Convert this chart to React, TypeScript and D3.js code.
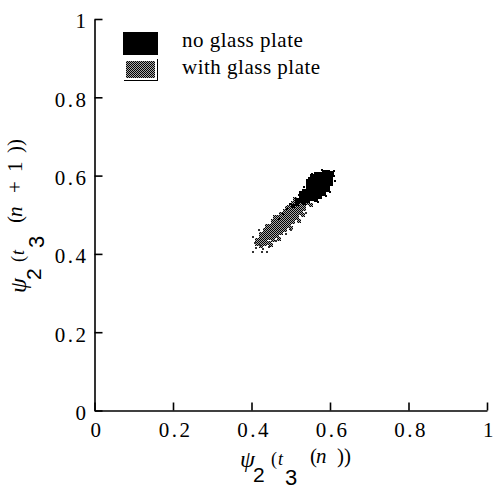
import { useEffect, useRef } from "react";
import * as d3 from "d3";

const xTicks = [0, 0.2, 0.4, 0.6, 0.8, 1];
const yTicks = [0, 0.2, 0.4, 0.6, 0.8, 1];
const xTickLabels = ["0", "0.2", "0.4", "0.6", "0.8", "1"];
const yTickLabels = ["0", "0.2", "0.4", "0.6", "0.8", "1"];
const legendLabels = ["no glass plate", "with glass plate"];

// with glass plate: [psi2(t3(n)), psi2(t3(n+1))]
const withPlate = [
  [0.415, 0.425], [0.415, 0.435],
  [0.425, 0.42], [0.425, 0.43], [0.425, 0.44], [0.425, 0.45],
  [0.435, 0.425], [0.435, 0.435], [0.435, 0.445], [0.435, 0.455], [0.435, 0.462],
  [0.445, 0.428], [0.445, 0.44], [0.445, 0.45], [0.445, 0.46], [0.445, 0.47],
  [0.455, 0.436], [0.455, 0.445], [0.455, 0.455], [0.455, 0.465], [0.455, 0.475], [0.455, 0.483],
  [0.465, 0.445], [0.465, 0.455], [0.465, 0.465], [0.465, 0.475], [0.465, 0.485], [0.465, 0.493],
  [0.475, 0.453], [0.475, 0.463], [0.475, 0.473], [0.475, 0.483], [0.475, 0.493], [0.475, 0.503],
  [0.485, 0.462], [0.485, 0.472], [0.485, 0.482], [0.485, 0.492], [0.485, 0.502], [0.485, 0.51],
  [0.495, 0.472], [0.495, 0.482], [0.495, 0.492], [0.495, 0.502], [0.495, 0.512], [0.495, 0.52],
  [0.505, 0.482], [0.505, 0.492], [0.505, 0.502], [0.505, 0.512], [0.505, 0.522], [0.505, 0.53],
  [0.515, 0.492], [0.515, 0.502], [0.515, 0.512], [0.515, 0.522], [0.515, 0.532],
  [0.525, 0.505], [0.525, 0.515], [0.525, 0.525], [0.525, 0.535], [0.525, 0.543],
  [0.535, 0.515], [0.535, 0.525], [0.535, 0.535], [0.535, 0.545],
  [0.545, 0.53], [0.545, 0.54], [0.545, 0.55],
  [0.45, 0.422], [0.44, 0.472], [0.47, 0.438], [0.49, 0.516], [0.5, 0.466],
  [0.52, 0.484], [0.53, 0.5], [0.51, 0.54], [0.552, 0.525], [0.46, 0.494],
];
const withPlateStray = [
  [0.403, 0.443], [0.408, 0.427], [0.421, 0.422], [0.403, 0.405], [0.426, 0.405],
  [0.439, 0.405], [0.411, 0.415], [0.43, 0.412], [0.445, 0.418], [0.462, 0.432],
  [0.487, 0.452], [0.42, 0.46], [0.5, 0.46], [0.54, 0.505],
];

// no glass plate
const noPlate = [
  [0.505, 0.522], [0.515, 0.527], [0.515, 0.537], [0.525, 0.535], [0.525, 0.545], [0.525, 0.555],
  [0.535, 0.53], [0.535, 0.54], [0.535, 0.55], [0.535, 0.56],
  [0.545, 0.535], [0.545, 0.545], [0.545, 0.555], [0.545, 0.565], [0.545, 0.575], [0.545, 0.585],
  [0.555, 0.54], [0.555, 0.55], [0.555, 0.56], [0.555, 0.57], [0.555, 0.58], [0.555, 0.59], [0.555, 0.598],
  [0.565, 0.537], [0.565, 0.547], [0.565, 0.557], [0.565, 0.567], [0.565, 0.577], [0.565, 0.587], [0.565, 0.597], [0.565, 0.603],
  [0.575, 0.545], [0.575, 0.555], [0.575, 0.565], [0.575, 0.575], [0.575, 0.585], [0.575, 0.595], [0.575, 0.603],
  [0.585, 0.552], [0.585, 0.562], [0.585, 0.572], [0.585, 0.582], [0.585, 0.592], [0.585, 0.602], [0.585, 0.608],
  [0.595, 0.562], [0.595, 0.572], [0.595, 0.582], [0.595, 0.592], [0.595, 0.602], [0.595, 0.608],
  [0.603, 0.578], [0.603, 0.588], [0.603, 0.598], [0.605, 0.606],
];
const noPlateStray = [
  [0.49, 0.515], [0.497, 0.527], [0.48, 0.503], [0.614, 0.585], [0.61, 0.612],
  [0.59, 0.548], [0.546, 0.594], [0.553, 0.605], [0.6, 0.558], [0.47, 0.49],
  [0.58, 0.615], [0.57, 0.532], [0.611, 0.6], [0.535, 0.57], [0.52, 0.55],
];

const SERIF = "'Liberation Serif', 'Times New Roman', serif";
const SANS = "'Liberation Sans', Arial, sans-serif";

// pieces of the axis titles: offset along the text, baseline shift
const xTitle = [
  { t: "ψ", s: 0, b: 0, f: SERIF, z: 24, i: true },
  { t: "2", s: 13, b: 15, f: SANS, z: 21, i: false },
  { t: "(", s: 31, b: -2, f: SERIF, z: 18, i: false },
  { t: "t", s: 38, b: -2, f: SERIF, z: 18, i: true },
  { t: "3", s: 45, b: 18, f: SANS, z: 22, i: false },
  { t: "(", s: 70, b: -4, f: SERIF, z: 21, i: false },
  { t: "n", s: 76, b: -4, f: SERIF, z: 21, i: true },
  { t: "))", s: 97, b: -4, f: SERIF, z: 21, i: false },
];
const yTitle = [
  ...xTitle.slice(0, 7),
  { t: "+", s: 100, b: -4, f: SERIF, z: 21, i: false },
  { t: "1", s: 121, b: -4, f: SERIF, z: 21, i: false },
  { t: "))", s: 140, b: -4, f: SERIF, z: 21, i: false },
];

export default function App() {
  const ref = useRef(null);

  useEffect(() => {
    const w = 495,
      h = 489;
    const svg = d3.select(ref.current);
    svg.selectAll("*").remove();
    svg.attr("width", w).attr("height", h);

    const x = d3.scaleLinear().domain([0, 1]).range([94.5, 487]);
    const y = d3.scaleLinear().domain([0, 1]).range([410.5, 19]);

    const pat = svg
      .append("defs")
      .append("pattern")
      .attr("id", "dither")
      .attr("width", 2)
      .attr("height", 2)
      .attr("patternUnits", "userSpaceOnUse");
    pat.append("rect").attr("width", 2).attr("height", 2).attr("fill", "#a8a8a8");
    pat.append("rect").attr("width", 1).attr("height", 1).attr("fill", "#000");
    pat.append("rect").attr("x", 1).attr("y", 1).attr("width", 1).attr("height", 1).attr("fill", "#000");

    svg.append("rect").attr("width", w).attr("height", h).attr("fill", "#fff");

    // points
    const dots = (data, size, fill) =>
      svg
        .append("g")
        .attr("shape-rendering", "crispEdges")
        .selectAll("rect")
        .data(data)
        .join("rect")
        .attr("x", (d) => Math.round(x(d[0]) - size / 2))
        .attr("y", (d) => Math.round(y(d[1]) - size / 2))
        .attr("width", size)
        .attr("height", size)
        .attr("fill", fill);

    dots(withPlate, 4, "url(#dither)");
    dots(withPlateStray, 2, "#333");
    dots(noPlate, 4, "#000");
    dots(noPlateStray, 2, "#000");

    // axes
    const styleAxis = (g) => {
      g.attr("font-family", SERIF).attr("font-size", 21);
      g.select(".domain").attr("stroke", "#000").attr("stroke-width", 1.6);
      g.selectAll(".tick line").attr("stroke", "#000").attr("stroke-width", 1.6);
      g.selectAll(".tick text").attr("fill", "#000").attr("letter-spacing", 2.5);
    };

    svg
      .append("g")
      .attr("transform", `translate(0,${y(0)})`)
      .call(
        d3
          .axisBottom(x)
          .tickValues(xTicks)
          .tickSize(-8)
          .tickSizeOuter(0)
          .tickPadding(12)
          .tickFormat((d, i) => xTickLabels[i])
      )
      .call(styleAxis)
      .call((g) => g.selectAll(".tick text").attr("dx", 2));

    svg
      .append("g")
      .attr("transform", `translate(${x(0)},0)`)
      .call(
        d3
          .axisLeft(y)
          .tickValues(yTicks)
          .tickSize(-8)
          .tickSizeOuter(0)
          .tickPadding(6)
          .tickFormat((d, i) => yTickLabels[i])
      )
      .call(styleAxis)
      .call((g) => g.selectAll(".tick text").attr("dy", "0.42em"));

    // axis titles
    const title = (parts, transform) => {
      const g = svg.append("g").attr("transform", transform);
      g.selectAll("text")
        .data(parts)
        .join("text")
        .attr("x", (d) => d.s)
        .attr("y", (d) => d.b)
        .attr("font-family", (d) => d.f)
        .attr("font-size", (d) => d.z)
        .attr("font-style", (d) => (d.i ? "italic" : "normal"))
        .attr("fill", "#000")
        .text((d) => d.t);
    };
    title(xTitle, "translate(240,467)");
    title(yTitle, "translate(26,293) rotate(-90)");

    // legend
    const lg = svg.append("g").attr("shape-rendering", "crispEdges");
    lg.append("rect").attr("x", 123).attr("y", 32).attr("width", 35).attr("height", 23).attr("fill", "#000");
    lg.append("rect").attr("x", 126).attr("y", 61).attr("width", 29).attr("height", 17).attr("fill", "url(#dither)");
    lg.append("path")
      .attr("d", "M157.5,59V80.5H124")
      .attr("fill", "none")
      .attr("stroke", "#000")
      .attr("stroke-width", 1.5);
    lg.selectAll("text")
      .data(legendLabels)
      .join("text")
      .attr("x", 182)
      .attr("y", (d, i) => 47 + i * 27)
      .attr("font-family", SERIF)
      .attr("font-size", 21)
      .attr("letter-spacing", 0.5)
      .attr("fill", "#000")
      .text((d) => d);
  }, []);

  return <svg ref={ref} style={{ position: "absolute", left: 0, top: 0 }} />;
}
